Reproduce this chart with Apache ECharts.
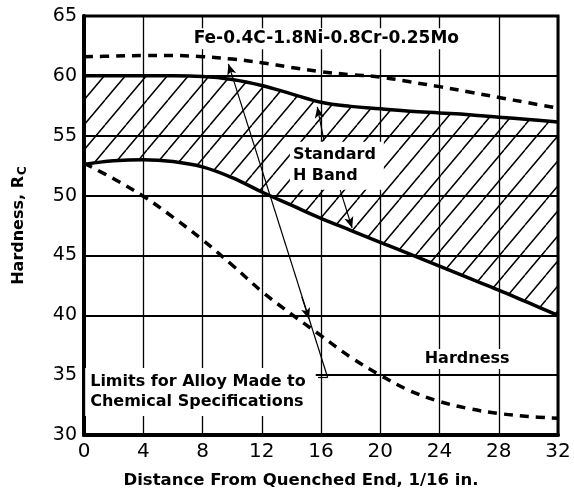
<!DOCTYPE html>
<html>
<head>
<meta charset="utf-8">
<script src="https://cdn.jsdelivr.net/npm/echarts@6/dist/echarts.min.js"></script>
<style>
  html, body { margin: 0; padding: 0; background: #fff; }
  #chart { width: 574px; height: 491px; }
</style>
</head>
<body>
<div id="chart"></div>
<script>
// Jominy distance, 1/16 in.
const distance = [0, 2, 4, 6, 8, 10, 12, 14, 16, 18, 20, 22, 24, 26, 28, 30, 32];
// Standard H band, Rockwell C
const bandMax = [60.0, 60.0, 60.0, 60.0, 59.95, 59.7, 59.2, 58.5, 57.8, 57.45, 57.25, 57.05, 56.9, 56.75, 56.55, 56.35, 56.15];
const bandMin = [52.6, 52.9, 53.0, 52.85, 52.4, 51.5, 50.3, 49.2, 48.1, 47.1, 46.1, 45.1, 44.1, 43.1, 42.1, 41.05, 40.0];
// Limits for the alloy made to chemical specifications
const alloyMax = [61.6, 61.65, 61.7, 61.7, 61.6, 61.4, 61.1, 60.7, 60.35, 60.1, 59.9, 59.5, 59.1, 58.65, 58.2, 57.75, 57.3];
const alloyMin = [52.7, 51.4, 49.95, 48.2, 46.3, 44.2, 42.0, 40.1, 38.3, 36.5, 35.0, 33.7, 32.8, 32.2, 31.8, 31.55, 31.4];
// Axis ticks
const xTicks = [0, 4, 8, 12, 16, 20, 24, 28, 32];
const yTicks = [30, 35, 40, 45, 50, 55, 60, 65];

const pairs = ys => distance.map((d, i) => [d, ys[i]]);
const FONT = 'DejaVu Sans';

// diagonal hatch tile for the H band
function hatchTile() {
  const w = 21, h = 25;
  const c = document.createElement('canvas');
  c.width = w; c.height = h;
  const g = c.getContext('2d');
  g.strokeStyle = '#000';
  g.lineWidth = 1.5;
  g.beginPath();
  for (const off of [-w, 0, w]) { g.moveTo(off, h); g.lineTo(off + w, 0); }
  g.stroke();
  return c;
}

const chart = echarts.init(document.getElementById('chart'), null, { renderer: 'canvas' });

const labelText = {
  fontFamily: FONT, fontWeight: 'bold', fontSize: 16, color: '#000',
  backgroundColor: '#fff'
};

chart.setOption({
  animation: false,
  backgroundColor: '#fff',
  grid: {
    left: 84, right: 16, top: 16, bottom: 56,
    containLabel: false, outerBoundsMode: 'none',
    show: true, borderColor: '#000', borderWidth: 3, backgroundColor: 'transparent'
  },
  xAxis: {
    type: 'value', min: xTicks[0], max: xTicks[xTicks.length - 1], interval: xTicks[1] - xTicks[0],
    name: 'Distance From Quenched End, 1/16 in.',
    nameLocation: 'middle', nameGap: 37,
    nameTextStyle: { fontFamily: FONT, fontWeight: 'bold', fontSize: 16.5, color: '#000', padding: [0, 40, 0, 0] },
    axisLine: { show: true, onZero: false, lineStyle: { color: '#000', width: 4 } },
    axisTick: { show: false },
    axisLabel: { margin: 7, fontFamily: FONT, fontSize: 20, color: '#000' },
    splitLine: { show: true, lineStyle: { color: '#000', width: 1.3 } }
  },
  yAxis: {
    type: 'value', min: yTicks[0], max: yTicks[yTicks.length - 1], interval: yTicks[1] - yTicks[0],
    name: 'Hardness, R{c|C}',
    nameLocation: 'middle', nameGap: 55, nameRotate: 90,
    nameTextStyle: {
      fontFamily: FONT, fontWeight: 'bold', fontSize: 16, color: '#000',
      rich: { c: { fontFamily: FONT, fontWeight: 'bold', fontSize: 12, color: '#000', verticalAlign: 'bottom', padding: [9, 0, 0, 1] } }
    },
    axisLine: { show: true, onZero: false, lineStyle: { color: '#000', width: 4 } },
    axisTick: { show: false },
    axisLabel: { margin: 7, fontFamily: FONT, fontSize: 19, color: '#000' },
    splitLine: { show: true, lineStyle: { color: '#000', width: 1.8 } }
  },
  series: [
    {
      // hatched H band between the max and min curves
      type: 'custom',
      data: [0],
      z: 2,
      renderItem: function (params, api) {
        const pts = [];
        distance.forEach((d, i) => pts.push(api.coord([d, bandMax[i]])));
        for (let i = distance.length - 1; i >= 0; i--) pts.push(api.coord([distance[i], bandMin[i]]));
        return {
          type: 'polygon',
          shape: { points: pts },
          style: { fill: { image: hatchTile(), repeat: 'repeat' }, stroke: null }
        };
      }
    },
    {
      name: 'H band max', type: 'line', data: pairs(bandMax), smooth: 0.4, showSymbol: false, z: 3,
      lineStyle: { color: '#000', width: 3.5 }
    },
    {
      name: 'H band min', type: 'line', data: pairs(bandMin), smooth: 0.4, showSymbol: false, z: 3,
      lineStyle: { color: '#000', width: 3.5 }
    },
    {
      name: 'Alloy max', type: 'line', data: pairs(alloyMax), smooth: 0.4, showSymbol: false, z: 3,
      lineStyle: { color: '#000', width: 3.5, type: [9, 7] }
    },
    {
      name: 'Alloy min', type: 'line', data: pairs(alloyMin), smooth: 0.4, showSymbol: false, z: 3,
      lineStyle: { color: '#000', width: 3.5, type: [9, 7] },
      markLine: {
        silent: true, z: 6,
        symbolSize: [7, 11],
        label: { show: false },
        lineStyle: { color: '#000', width: 1.2, type: 'solid' },
        data: [
          [{ coord: [16.45, 34.8], symbol: 'none' }, { coord: [9.75, 61.0], symbol: 'arrow' }],
          [{ coord: [14.70, 41.55], symbol: 'none' }, { coord: [15.19, 39.7], symbol: 'arrow' }],
          [{ coord: [15.8, 34.8], symbol: 'none' }, { coord: [16.45, 34.8], symbol: 'none' }],
          [{ coord: [16.2, 54.6], symbol: 'none' }, { coord: [15.75, 57.4], symbol: 'arrow' }],
          [{ coord: [17.3, 50.45], symbol: 'none' }, { coord: [18.1, 47.3], symbol: 'arrow' }]
        ]
      },
      markPoint: {
        silent: true, z: 5,
        symbol: 'rect', symbolSize: 0,
        data: [
          { coord: [7.2, 63.1], value: 0, label: Object.assign({ show: true, position: 'right', distance: 0, formatter: 'Fe-0.4C-1.8Ni-0.8Cr-0.25Mo', padding: [2, 3, 2, 3] }, labelText, { fontSize: 17 }) },
          { coord: [13.9, 52.5], value: 0, label: Object.assign({ show: true, position: 'right', distance: 0, formatter: 'Standard\nH Band', lineHeight: 21, padding: [3, 8, 3, 3] }, labelText) },
          { coord: [0.08, 33.6], value: 0, label: Object.assign({ show: true, position: 'right', distance: 0, formatter: 'Limits for Alloy Made to\nChemical Specifications', lineHeight: 20, padding: [4, 10, 4, 5] }, labelText) },
          { coord: [22.8, 36.35], value: 0, label: Object.assign({ show: true, position: 'right', distance: 0, formatter: 'Hardness', padding: [2, 4, 2, 3] }, labelText) }
        ]
      }
    }
  ]
});
</script>
</body>
</html>
